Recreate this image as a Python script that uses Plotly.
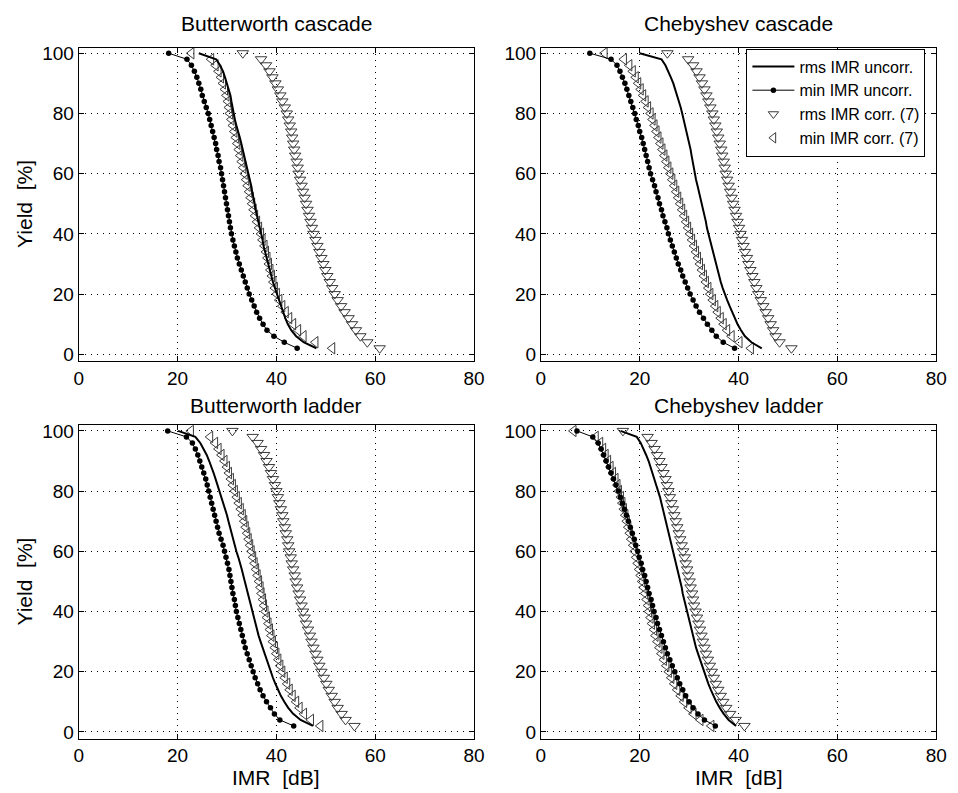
import plotly.graph_objects as go

# ---------------- data ----------------
yield_pct = [100, 98, 96, 94, 92, 90, 88, 86, 84, 82, 80, 78, 76, 74, 72, 70, 68, 66, 64, 62,
             60, 58, 56, 54, 52, 50, 48, 46, 44, 42, 40, 38, 36, 34, 32, 30, 28, 26, 24, 22,
             20, 18, 16, 14, 12, 10, 8, 6, 4, 2]

panel_titles = ["Butterworth cascade", "Chebyshev cascade", "Butterworth ladder", "Chebyshev ladder"]
series_names = ["rms IMR uncorr.", "min IMR uncorr.", "rms IMR corr. (7)", "min IMR corr. (7)"]
x_ticks = [0, 20, 40, 60, 80]
y_ticks = [0, 20, 40, 60, 80, 100]

# Butterworth cascade
bc_rms_uncorr = [24.3, 27.8, 28.6, 29.2, 29.6, 30.0, 30.4, 30.7, 30.9, 31.1, 31.3, 31.6, 31.9, 32.3, 32.6, 32.9, 33.2, 33.5, 33.8, 34.1,
                 34.4, 34.6, 34.9, 35.1, 35.4, 35.6, 35.8, 36.1, 36.4, 36.6, 36.9, 37.2, 37.4, 37.7, 38.0, 38.3, 38.6, 38.9, 39.3, 39.7,
                 40.1, 40.5, 40.9, 41.3, 41.8, 42.3, 43.0, 44.0, 45.5, 48.1]
bc_min_uncorr = [18.2, 21.9, 22.8, 23.4, 23.9, 24.3, 24.7, 25.0, 25.4, 25.8, 26.2, 26.5, 26.8, 27.1, 27.4, 27.7, 27.9, 28.2, 28.4, 28.7,
                 28.9, 29.1, 29.3, 29.5, 29.7, 29.9, 30.1, 30.3, 30.5, 30.7, 30.9, 31.2, 31.5, 31.8, 32.1, 32.5, 32.9, 33.3, 33.7, 34.1,
                 34.5, 35.0, 35.5, 36.0, 36.6, 37.3, 38.1, 39.5, 41.6, 44.2]
bc_rms_corr = [33.2, 36.9, 37.9, 38.6, 39.2, 39.8, 40.3, 40.8, 41.2, 41.7, 42.1, 42.4, 42.7, 43.0, 43.2, 43.4, 43.6, 43.8, 44.1, 44.3,
               44.5, 44.8, 45.1, 45.4, 45.7, 46.0, 46.3, 46.6, 46.9, 47.2, 47.5, 47.9, 48.3, 48.7, 49.1, 49.5, 49.9, 50.3, 50.8, 51.3,
               51.8, 52.4, 53.1, 53.8, 54.6, 55.3, 56.1, 57.0, 58.4, 60.9]
bc_min_corr = [22.8, 26.8, 27.7, 28.3, 28.8, 29.2, 29.6, 29.9, 30.2, 30.4, 30.6, 30.9, 31.2, 31.5, 31.8, 32.1, 32.4, 32.7, 33.0, 33.3,
               33.6, 33.9, 34.2, 34.5, 34.8, 35.1, 35.4, 35.7, 36.1, 36.5, 36.9, 37.2, 37.6, 37.9, 38.2, 38.5, 38.8, 39.1, 39.4, 39.7,
               40.1, 40.6, 41.2, 41.9, 42.6, 43.4, 44.4, 45.5, 47.9, 51.3]

# Chebyshev cascade
cc_rms_uncorr = [20.0, 24.4, 25.2, 25.8, 26.3, 26.8, 27.2, 27.6, 28.0, 28.3, 28.6, 28.9, 29.2, 29.5, 29.8, 30.1, 30.3, 30.5, 30.7, 30.9,
                 31.1, 31.4, 31.7, 32.0, 32.3, 32.6, 32.9, 33.1, 33.4, 33.6, 33.9, 34.2, 34.5, 34.8, 35.1, 35.4, 35.7, 36.1, 36.4, 36.8,
                 37.2, 37.7, 38.2, 38.7, 39.2, 39.8, 40.5, 41.3, 42.6, 44.7]
cc_min_uncorr = [9.9, 14.2, 15.4, 16.0, 16.5, 17.0, 17.4, 17.8, 18.2, 18.6, 19.0, 19.3, 19.7, 20.0, 20.4, 20.7, 21.0, 21.3, 21.6, 21.9,
                 22.2, 22.6, 23.0, 23.3, 23.7, 24.0, 24.4, 24.7, 25.1, 25.5, 25.8, 26.2, 26.6, 27.0, 27.4, 27.8, 28.3, 28.7, 29.2, 29.7,
                 30.2, 30.8, 31.4, 32.1, 32.9, 33.7, 34.6, 35.5, 36.9, 39.2]
cc_rms_corr = [25.6, 29.8, 30.8, 31.5, 32.1, 32.6, 33.1, 33.5, 33.9, 34.3, 34.7, 35.0, 35.3, 35.6, 35.9, 36.2, 36.5, 36.7, 37.0, 37.2,
               37.4, 37.7, 38.0, 38.3, 38.6, 38.9, 39.2, 39.5, 39.8, 40.1, 40.4, 40.7, 41.0, 41.3, 41.7, 42.0, 42.4, 42.8, 43.2, 43.6,
               44.0, 44.5, 45.0, 45.5, 46.0, 46.5, 47.0, 47.5, 48.3, 50.7]
cc_min_corr = [12.9, 16.8, 17.9, 18.6, 19.2, 19.7, 20.2, 20.7, 21.2, 21.7, 22.2, 22.6, 23.0, 23.4, 23.8, 24.2, 24.6, 25.0, 25.4, 25.8,
               26.2, 26.6, 27.0, 27.4, 27.8, 28.2, 28.6, 29.0, 29.4, 29.8, 30.2, 30.6, 31.0, 31.4, 31.8, 32.2, 32.6, 33.0, 33.4, 33.9,
               34.3, 34.8, 35.3, 35.8, 36.4, 37.0, 37.7, 38.6, 40.2, 42.5]

# Butterworth ladder
bl_rms_uncorr = [20.1, 23.6, 24.6, 25.3, 25.9, 26.4, 26.9, 27.3, 27.7, 28.1, 28.5, 28.9, 29.3, 29.6, 30.0, 30.3, 30.6, 30.9, 31.2, 31.5,
                 31.9, 32.3, 32.7, 33.0, 33.3, 33.6, 33.9, 34.2, 34.5, 34.8, 35.1, 35.4, 35.7, 36.1, 36.4, 36.8, 37.2, 37.6, 38.0, 38.4,
                 38.8, 39.3, 39.8, 40.3, 40.9, 41.6, 42.4, 43.4, 44.9, 47.4]
bl_min_uncorr = [18.0, 21.8, 23.0, 23.6, 24.1, 24.5, 24.9, 25.3, 25.7, 26.0, 26.3, 26.6, 26.9, 27.2, 27.5, 27.8, 28.1, 28.4, 28.8, 29.2,
                 29.5, 29.8, 30.1, 30.4, 30.6, 30.8, 31.0, 31.2, 31.5, 31.7, 31.9, 32.2, 32.5, 32.8, 33.1, 33.4, 33.7, 34.1, 34.5, 34.9,
                 35.3, 35.7, 36.2, 36.7, 37.3, 38.0, 38.8, 39.6, 40.7, 43.5]
bl_rms_corr = [31.1, 35.2, 36.2, 36.9, 37.5, 38.0, 38.5, 38.9, 39.3, 39.7, 40.0, 40.3, 40.6, 40.9, 41.2, 41.4, 41.7, 41.9, 42.2, 42.4,
               42.6, 42.9, 43.1, 43.4, 43.7, 43.9, 44.2, 44.5, 44.8, 45.1, 45.4, 45.7, 46.0, 46.4, 46.8, 47.1, 47.5, 47.9, 48.3, 48.7,
               49.1, 49.6, 50.1, 50.6, 51.2, 51.8, 52.4, 53.2, 54.0, 55.8]
bl_min_corr = [22.7, 26.6, 27.6, 28.3, 28.9, 29.5, 30.0, 30.4, 30.8, 31.2, 31.6, 32.0, 32.4, 32.8, 33.2, 33.5, 33.8, 34.1, 34.4, 34.7,
               35.0, 35.3, 35.6, 35.9, 36.2, 36.5, 36.8, 37.0, 37.3, 37.5, 37.8, 38.1, 38.4, 38.7, 39.0, 39.3, 39.7, 40.0, 40.4, 40.8,
               41.2, 41.7, 42.2, 42.7, 43.3, 44.0, 44.7, 45.6, 47.0, 48.9]

# Chebyshev ladder
cl_rms_uncorr = [16.1, 19.4, 20.2, 20.8, 21.3, 21.8, 22.2, 22.6, 23.0, 23.4, 23.8, 24.1, 24.4, 24.7, 25.0, 25.3, 25.6, 25.9, 26.2, 26.5,
                 26.8, 27.1, 27.4, 27.6, 27.9, 28.2, 28.5, 28.7, 29.0, 29.3, 29.5, 29.8, 30.1, 30.4, 30.7, 31.1, 31.4, 31.8, 32.2, 32.6,
                 33.0, 33.4, 33.9, 34.4, 34.9, 35.5, 36.2, 37.0, 38.0, 39.5]
cl_min_uncorr = [7.3, 10.5, 11.6, 12.2, 12.7, 13.2, 13.7, 14.2, 14.7, 15.2, 15.7, 16.1, 16.5, 16.9, 17.3, 17.7, 18.1, 18.5, 18.9, 19.2,
                 19.6, 19.9, 20.3, 20.6, 21.0, 21.3, 21.6, 21.9, 22.3, 22.6, 22.9, 23.3, 23.6, 24.0, 24.4, 24.8, 25.2, 25.6, 26.1, 26.6,
                 27.1, 27.6, 28.1, 28.7, 29.3, 30.0, 30.8, 31.8, 33.1, 35.3]
cl_rms_corr = [16.6, 21.6, 22.4, 23.0, 23.5, 24.0, 24.4, 24.8, 25.2, 25.5, 25.8, 26.1, 26.4, 26.7, 27.0, 27.3, 27.6, 27.9, 28.2, 28.5,
               28.8, 29.1, 29.3, 29.6, 29.8, 30.1, 30.3, 30.6, 30.8, 31.0, 31.3, 31.6, 31.9, 32.2, 32.5, 32.8, 33.1, 33.4, 33.8, 34.2,
               34.6, 35.0, 35.4, 35.9, 36.4, 36.9, 37.5, 38.3, 39.4, 41.2]
cl_min_corr = [6.6, 11.1, 12.0, 12.6, 13.1, 13.6, 14.1, 14.6, 15.1, 15.5, 15.8, 16.2, 16.5, 16.8, 17.1, 17.4, 17.7, 18.0, 18.3, 18.7,
               19.0, 19.3, 19.6, 19.9, 20.2, 20.5, 20.8, 21.1, 21.4, 21.7, 21.9, 22.2, 22.5, 22.9, 23.2, 23.6, 24.0, 24.4, 24.9, 25.4,
               25.9, 26.4, 27.0, 27.6, 28.3, 29.0, 29.9, 30.9, 32.3, 34.5]

panels = [
    (bc_rms_uncorr, bc_min_uncorr, bc_rms_corr, bc_min_corr),
    (cc_rms_uncorr, cc_min_uncorr, cc_rms_corr, cc_min_corr),
    (bl_rms_uncorr, bl_min_uncorr, bl_rms_corr, bl_min_corr),
    (cl_rms_uncorr, cl_min_uncorr, cl_rms_corr, cl_min_corr),
]

# ---------------- layout geometry ----------------
W, H = 958, 793
x_domains = [[75 / W, 477 / W], [545 / W, 947 / W]]
y_domains = [[1 - 360 / H, 1 - 43 / H], [1 - 742 / H, 1 - 425 / H]]
FONT = "Liberation Sans, Arial, Helvetica, sans-serif"
TRI_COLOR = "#3c3c3c"
TRI_SIZE = 10

fig = go.Figure()

for i, (rms_u, min_u, rms_c, min_c) in enumerate(panels):
    n = "" if i == 0 else str(i + 1)
    xa, ya = "x" + n, "y" + n
    show = (i == 1)
    fig.add_trace(go.Scatter(x=rms_c, y=yield_pct, xaxis=xa, yaxis=ya, mode="markers",
                             name=series_names[2], showlegend=False, legendrank=3,
                             marker=dict(symbol="triangle-down-open", size=TRI_SIZE, color=TRI_COLOR,
                                         line=dict(width=1, color=TRI_COLOR))))
    fig.add_trace(go.Scatter(x=min_c, y=yield_pct, xaxis=xa, yaxis=ya, mode="markers",
                             name=series_names[3], showlegend=False, legendrank=4,
                             marker=dict(symbol="triangle-left-open", size=TRI_SIZE, color=TRI_COLOR,
                                         line=dict(width=1, color=TRI_COLOR))))
    fig.add_trace(go.Scatter(x=rms_u, y=yield_pct, xaxis=xa, yaxis=ya, mode="lines",
                             name=series_names[0], showlegend=show, legendrank=1,
                             line=dict(color="black", width=2)))
    fig.add_trace(go.Scatter(x=min_u, y=yield_pct, xaxis=xa, yaxis=ya, mode="lines+markers",
                             name=series_names[1], showlegend=show, legendrank=2,
                             line=dict(color="black", width=1),
                             marker=dict(symbol="circle", size=5.5, color="black")))
    if show:
        # legend-only entries for the marker series
        fig.add_trace(go.Scatter(x=[None], y=[None], xaxis=xa, yaxis=ya, mode="markers",
                                 name=series_names[2], legendrank=3,
                                 marker=dict(symbol="triangle-down-open", size=9, color=TRI_COLOR,
                                             line=dict(width=1, color=TRI_COLOR))))
        fig.add_trace(go.Scatter(x=[None], y=[None], xaxis=xa, yaxis=ya, mode="markers",
                                 name=series_names[3], legendrank=4,
                                 marker=dict(symbol="triangle-left-open", size=9, color=TRI_COLOR,
                                             line=dict(width=1, color=TRI_COLOR))))

axis_common = dict(showline=True, linecolor="black", linewidth=1, mirror="ticks",
                   ticks="inside", ticklen=5, tickcolor="black", tickwidth=1,
                   showgrid=True, gridcolor="black", gridwidth=1, griddash="1px,5px",
                   zeroline=False, tickfont=dict(size=19, color="black", family=FONT))

layout_axes = {}
for i in range(4):
    r, c = divmod(i, 2)
    n = "" if i == 0 else str(i + 1)
    layout_axes["xaxis" + n] = dict(axis_common, domain=x_domains[c], range=[0, 80],
                                    tickvals=x_ticks, anchor="y" + n)
    layout_axes["yaxis" + n] = dict(axis_common, domain=y_domains[r], range=[-2.2, 101.9],
                                    tickvals=y_ticks, anchor="x" + n)

annotations = []
title_y = [1 - 19 / H, 1 - 405 / H]
for i, t in enumerate(panel_titles):
    r, c = divmod(i, 2)
    cx = (x_domains[c][0] + x_domains[c][1]) / 2
    annotations.append(dict(text=t, x=cx, y=title_y[r], xref="paper", yref="paper",
                            showarrow=False, xanchor="center", yanchor="middle",
                            font=dict(size=21, color="black", family=FONT)))
for r in range(2):
    cy = (y_domains[r][0] + y_domains[r][1]) / 2
    annotations.append(dict(text="Yield\u00a0 [%]", x=20 / W, y=cy, xref="paper", yref="paper",
                            showarrow=False, xanchor="center", yanchor="middle", textangle=-90,
                            font=dict(size=21, color="black", family=FONT)))
for c in range(2):
    cx = (x_domains[c][0] + x_domains[c][1]) / 2
    annotations.append(dict(text="IMR\u00a0 [dB]", x=cx, y=1 - 781 / H, xref="paper", yref="paper",
                            showarrow=False, xanchor="center", yanchor="middle",
                            font=dict(size=21, color="black", family=FONT)))

fig.update_layout(
    width=W, height=H,
    margin=dict(l=0, r=0, t=0, b=0),
    paper_bgcolor="white", plot_bgcolor="white",
    font=dict(family=FONT, color="black"),
    annotations=annotations,
    legend=dict(x=754 / W, y=1 - 44 / H, xanchor="left", yanchor="top",
                bgcolor="white", bordercolor="black", borderwidth=1,
                font=dict(size=16, color="black", family=FONT),
                tracegroupgap=0, itemwidth=42),
    **layout_axes,
)

fig.write_html("out.html")
